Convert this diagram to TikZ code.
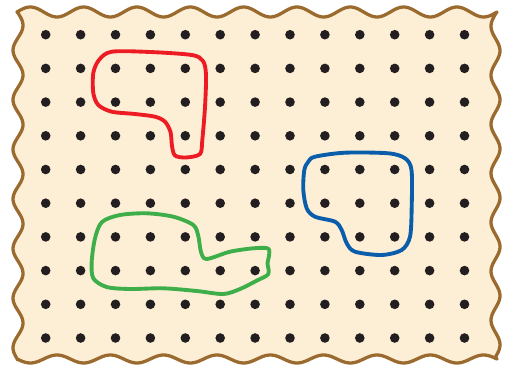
\documentclass[tikz,border=0pt]{standalone}
\usepackage{xcolor}
\usepackage{tikz}
\definecolor{paper}{HTML}{FDEFD5}
\definecolor{crustbrown}{HTML}{9B6A2E}
\definecolor{dotblack}{HTML}{231F20}
\definecolor{loopred}{HTML}{ED1C24}
\definecolor{loopgreen}{HTML}{3DAE49}
\definecolor{loopblue}{HTML}{0A5DAA}
\tikzset{
  crust/.style={draw=crustbrown, fill=paper, line width=2.8pt, line join=round},
  pegdot/.style={fill=dotblack},
  ring/.style={line width=3.3pt, line join=round},
  ringr/.style={ring, draw=loopred},
  ringg/.style={ring, draw=loopgreen},
  ringb/.style={ring, draw=loopblue},
}
\begin{document}
\begin{tikzpicture}[x=0.03cm, y=-0.03cm]
    \useasboundingbox (0,0) rectangle (506,365);
    \draw[crust] plot[domain=17:497, samples=220] (\x, {12-5*sin((\x-17)/53.33*360)})
      -- plot[domain=14:357, samples=160] ({495.5-4.5*sin((\x-14)/49*360)}, \x)
      -- plot[domain=497:17, samples=220] (\x, {359+4*sin((\x-17)/53.33*360)})
      -- plot[domain=360:13, samples=160] ({18+5*sin((\x-13)/49.6*360)}, \x) -- cycle;
    \foreach \i in {0,...,12}{
      \foreach \j in {0,...,9}{
        \fill[pegdot] (45.7+34.9*\i, 34.7+33.7*\j) circle [radius=4.8];
      }
    }
    \draw[ringr] plot[smooth cycle] coordinates {(111.7,51.7) (150,52) (191.7,55) (203,61) (206,75) (205,107) (202.3,140) (200,154) (186,157.5) (175,155.5) (172,146) (170.5,132) (165,121.7) (155,116.7) (135,114) (111.7,111.7) (98.3,105) (93.3,93) (93.3,73) (99,60)};
    \draw[ringg] plot[smooth cycle] coordinates {(120,215) (146.7,213.3) (173.3,216.7) (193.3,225) (198.3,236) (201,252) (206.7,259) (230,251.7) (253.3,248.3) (268,248.5) (269,256) (267.5,263) (268.3,274) (257,280.5) (240,289) (223.3,294) (196.7,291) (163.3,288.3) (130,289) (106.7,287) (93.3,278.3) (91.7,261.7) (95,238.3) (102,222)};
    \draw[ringb] plot[smooth cycle] coordinates {(315,156.7) (345,152.7) (388.3,153.3) (405,158.3) (411.5,170) (411.7,206.7) (410,236.7) (401.7,250) (381.7,255) (355,251.7) (346.7,243.3) (341.7,230) (335,221.7) (315,216.7) (306.7,208.3) (303.3,190) (304.3,170) (308.3,161.7)};
\end{tikzpicture}
\end{document}
